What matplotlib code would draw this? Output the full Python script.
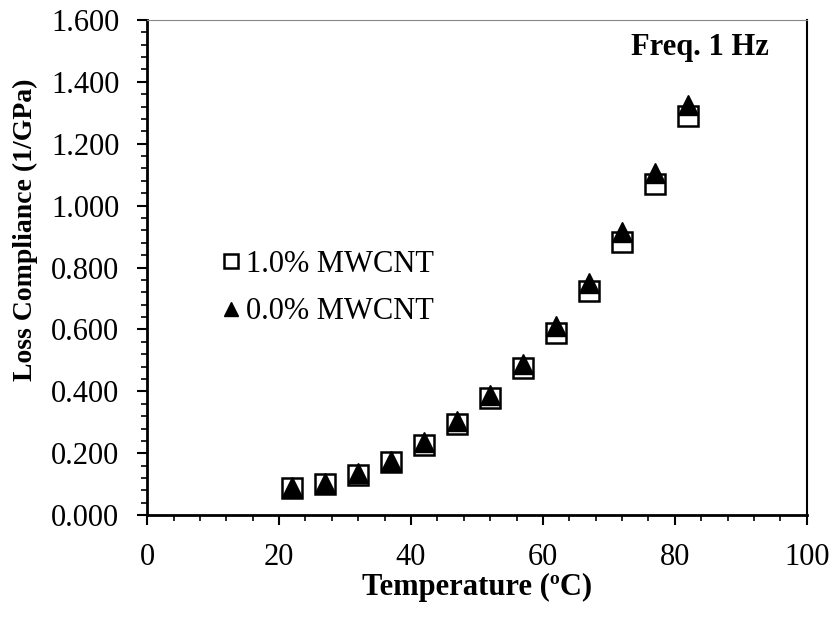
import matplotlib.pyplot as plt
from matplotlib.ticker import MultipleLocator, FormatStrFormatter

plt.rcParams['font.family'] = ['Liberation Serif', 'DejaVu Serif']

# temperature (C) and loss compliance (1/GPa)
temperature = [22, 27, 32, 37, 42, 47, 52, 57, 62, 67, 72, 77, 82]
compliance_10 = [0.087, 0.100, 0.130, 0.172, 0.228, 0.296, 0.378, 0.475,
                 0.590, 0.725, 0.884, 1.070, 1.288]
compliance_00 = [0.091, 0.104, 0.135, 0.175, 0.235, 0.304, 0.388, 0.490,
                 0.611, 0.751, 0.915, 1.106, 1.325]
labels = ["1.0% MWCNT", "0.0% MWCNT"]

fig = plt.figure(figsize=(8.36, 6.2), dpi=100)
ax = fig.add_axes([0.176, 0.169, 0.789, 0.799])

ax.plot(temperature, compliance_10, linestyle='none', marker='s', markersize=14,
        markerfacecolor='white', markeredgecolor='black', markeredgewidth=1.8,
        label=labels[0])
ax.plot(temperature, compliance_00, linestyle='none', marker='^', markersize=14,
        markerfacecolor='black', markeredgecolor='black', label=labels[1])

ax.set_xlim(0, 100)
ax.set_ylim(0, 1.6)
ax.xaxis.set_major_locator(MultipleLocator(20))
ax.xaxis.set_minor_locator(MultipleLocator(4))
ax.yaxis.set_major_locator(MultipleLocator(0.2))
ax.yaxis.set_minor_locator(MultipleLocator(0.04))
ax.yaxis.set_major_formatter(FormatStrFormatter('%.3f'))

ax.tick_params(which='major', direction='out', length=7, width=1.5, labelsize=22, pad=13)
ax.tick_params(which='minor', direction='out', length=4, width=1.2)
for side in ['bottom', 'left']:
    ax.spines[side].set_linewidth(2)
ax.spines['right'].set_linewidth(1.5)
ax.spines['top'].set_linewidth(0.8)
ax.spines['top'].set_color('#888888')

ax.set_xlabel("Temperature (ºC)", fontsize=22, fontweight='bold', va='center')
ax.xaxis.set_label_coords(0.5, -0.145)
ax.set_ylabel("Loss Compliance (1/GPa)", fontsize=20, fontweight='bold', va='center')
ax.yaxis.set_label_coords(-0.185, 0.576)

ax.text(0.838, 0.945, "Freq. 1 Hz", transform=ax.transAxes, fontsize=22,
        fontweight='bold', ha='center', va='center')

ax.legend(loc='upper left', bbox_to_anchor=(0.095, 0.56), frameon=False,
          fontsize=22, markerscale=0.7, handlelength=0.6, handletextpad=0.2,
          labelspacing=0.6, borderaxespad=0)

fig.savefig("out.png", dpi=100)
